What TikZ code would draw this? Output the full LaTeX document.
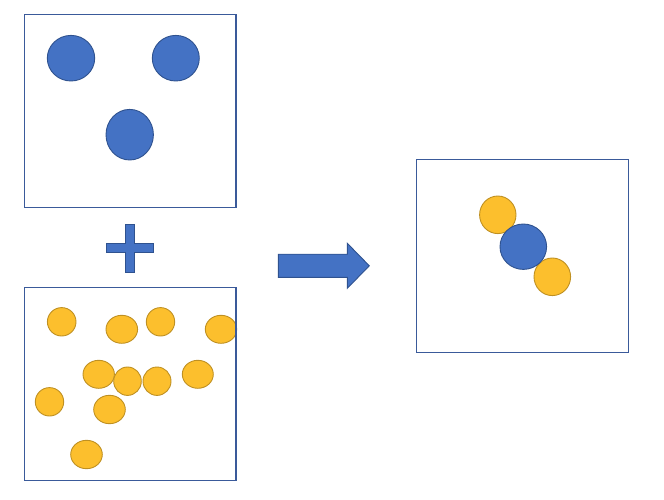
\documentclass[tikz,border=0pt]{standalone}
\usepackage{tikz}
\usetikzlibrary{shapes.geometric}
\definecolor{molBlue}{HTML}{4472C4}
\definecolor{molBlueEdge}{HTML}{2F528F}
\definecolor{molGold}{HTML}{FCBF2D}
\definecolor{molGoldEdge}{HTML}{BF9022}
\definecolor{molFrame}{HTML}{3A5A9A}
\tikzset{
    panelbox/.style={draw=molFrame, line width=1.1pt},
    bluedot/.style={ellipse, draw=molBlueEdge, line width=0.9pt, fill=molBlue, inner sep=0pt},
    golddot/.style={ellipse, draw=molGoldEdge, line width=0.9pt, fill=molGold, inner sep=0pt},
    bigshape/.style={draw=molBlueEdge, line width=0.9pt, fill=molBlue}
}
\begin{document}
\begin{tikzpicture}[x=1pt, y=-1pt]
\useasboundingbox (0,0) rectangle (664,500);
% blue molecules
\node[bluedot, minimum width=47.4pt, minimum height=45.6pt] (blueA) at (71,58.2) {};
\node[bluedot, minimum width=47pt, minimum height=45.6pt] (blueB) at (175.8,58.2) {};
\node[bluedot, minimum width=47.4pt, minimum height=50.6pt] (blueC) at (129.7,134.7) {};
% gold molecules
\foreach \px/\py/\w/\h [count=\i] in {61.7/321.8/28.6/28.4, 121.8/329.3/31.6/28, 160.5/321.8/28.4/28.4,
    221/329.3/31.4/28, 98.7/374.3/31.4/28, 127.5/381.2/27.6/28.4, 157/381.2/28/28.4,
    197.8/374.3/31/28, 49.5/401.8/28.4/28.4, 109.5/409.5/31.6/28.4, 86.5/454.5/31.6/28.4}
    \node[golddot, minimum width=\w pt, minimum height=\h pt] (gold\i) at (\px,\py) {};
% plus
\filldraw[bigshape] (125.8,224) -- (134.2,224) -- (134.2,243.8) -- (153.3,243.8) -- (153.3,252.4)
    -- (134.2,252.4) -- (134.2,272.7) -- (125.8,272.7) -- (125.8,252.4) -- (106,252.4)
    -- (106,243.8) -- (125.8,243.8) -- cycle;
% arrow
\filldraw[bigshape] (278.3,254.2) -- (347.3,254.2) -- (347.3,243.3) -- (369.3,265.8)
    -- (347.3,288.3) -- (347.3,277.4) -- (278.3,277.4) -- cycle;
% complex
\node[golddot, minimum width=36.4pt, minimum height=37.6pt] (cplxA) at (497.8,214.8) {};
\node[golddot, minimum width=36.6pt, minimum height=37.6pt] (cplxB) at (552.3,276.8) {};
\node[bluedot, minimum width=46.6pt, minimum height=45.4pt] (cplxC) at (523.3,246.7) {};
% panels
\draw[panelbox] (24.7,14.7) rectangle (236,207.3);
\draw[panelbox] (24.7,287.3) rectangle (236,480.7);
\draw[panelbox] (416.7,159.3) rectangle (628.7,352.3);
\end{tikzpicture}
\end{document}
